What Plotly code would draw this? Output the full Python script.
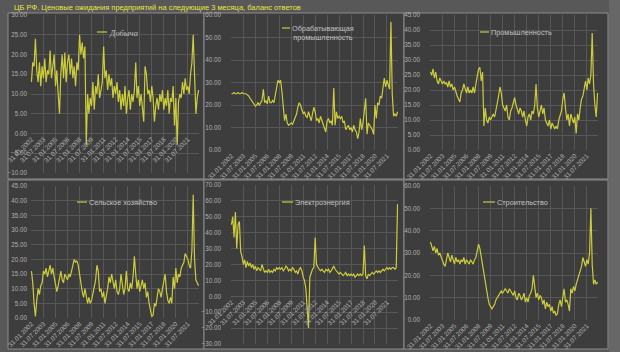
import pandas as pd
import plotly.graph_objects as go

TITLE = "ЦБ РФ. Ценовые ожидания предприятий на следующие 3 месяца, баланс ответов"

N = 126
DATES = pd.date_range("2002-01-01", periods=N, freq="2MS") + pd.offsets.MonthEnd(0)
TICK_IDX = list(range(0, N, 9))
TICK_VALS = [DATES[i] for i in TICK_IDX]
TICK_LABELS = [d.strftime("%d.%m.%Y") for d in TICK_VALS]

NAMES = ["Добыча", "Обрабатывающая<br>промышленность", "Промышленность",
         "Сельское хозяйство", "Электроэнергия", "Строительство"]

dobycha = [13, 18, 17, 24, 16, 13, 18, 12, 17, 14,
           19, 13, 16, 15, 21, 14, 17, 20, 12, 16,
           10, 5, 15, 20, 14, 20.5, 13, 18, 20, 15,
           19, 14, 17, 12, 18, 16, 25, 20, 23, 19,
           22, -3, 10, 5, 9, 7, 13, 6, 12, 10,
           15, 9, 11, 13, 22, 14, 16, 11, 15, 12,
           14, 9, 12, 10, 13, 8, 11, 6, 10, 7,
           12, 5, 9, 11, 6, 10, 8, 11, 18, 9,
           12, 7, 10, 6, 3, 17, 15, 10, 11, 8,
           12, 9, 3, 7, 9, 6, 10, 8, 11, 6,
           9, 7, 11, 5, 9, 8, 12, 2, 9, -3,
           8, 10, 9, 13, 10, 14, 11, 12, 10, 15,
           18, 25, 12, 5, 9, 11]

obrab = [25, 25, 25.5, 25, 25, 25.5, 25, 25, 25.5, 25,
         25, 25, 24.5, 24, 23, 22, 21, 20, 19.5, 20,
         21, 20, 21, 22, 27, 21, 22, 20.5, 24, 21,
         21, 22, 21, 25, 29, 31, 30, 31, 26, 17,
         13, 16, 12, 11, 11.5, 12, 11.5, 13, 14, 16,
         19, 21, 20, 18, 16, 17, 15, 14.5, 17, 15,
         13, 16, 19, 17, 13, 14, 12, 15, 13, 12,
         10, 8, 13, 14, 12, 13, 11, 27.5, 11, 17,
         14, 15, 14, 15, 12, 13, 9, 10, 11, 9,
         10, 8, 11, 9, 8, 5, 8, 14, 9, 12,
         17, 23, 7, 12, 11, 10, 9, 7, 20, 14,
         21, 20, 24, 23, 29, 32, 28, 31, 29, 27,
         57, 25, 15, 16, 15, 17]

prom = [26, 25, 27, 24, 26, 23, 22, 24, 23, 22,
        23, 22, 22.5, 21, 23, 21, 22, 20, 21, 19,
        18, 17, 16, 19, 20, 22, 20, 19, 21, 19,
        20, 19, 21, 19, 22, 25, 27, 27.5, 23, 26,
        8, 14, 10, 9, 11, 10, 11, 12, 11, 13,
        15, 18, 21, 19, 15, 14, 13, 15, 11, 10,
        13, 14, 16, 17.5, 15, 13, 12, 14, 13, 11,
        13, 10, 8, 11, 12, 10, 13, 12, 15, 22,
        14, 11, 13, 15, 12, 14, 10, 9, 8, 10,
        7, 9, 8, 7, 8, 7, 10, 12, 13, 17,
        19, 14, 10, 12, 8, 12, 10, 9, 11, 5.5,
        12, 10, 14, 17, 18, 20, 23, 20, 24, 22,
        25, 39, 22, 15, 11, 19]

selhoz = [16, 12, 5, 0.5, 6, 10, 8, 11, 12, 16,
          15, 17, 14, 16, 18, 15, 17, 14, 12, 9,
          11, 14, 16, 13, 12, 15, 14, 13, 15, 14,
          16, 18, 20, 19, 19.5, 18, 14, 12, 9, 7,
          10, 8, 5, 7, 5, 6, 8, 10, 13, 18,
          16, 9, 10, 7, 9, 5, 7, 10, 14, 12,
          15, 12, 10, 13, 9, 8, 10, 15, 12, 8,
          10, 16, 10, 9, 12, 10, 14, 21, 15, 10,
          13, 9, 11, 13, 10, 12, 7, 9, 5, 3,
          0.5, 1, 5, 4, 7, 10, 9, 7, 10, 12,
          15, 9, 6, 5, 7, 5, 14, 10, 17, 12,
          15, 14, 17, 18, 19, 22, 21, 20, 18, 17,
          23, 42, 20, 13, 12, 11]

elektro = [45, 50, 37, 53, 30, 45, 47, 28, 25, 20,
           23, 18, 22, 19, 21, 18, 20, 17, 19, 16,
           18, 17, 16, 20, 17, 15, 16, 15, 17, 15,
           16, 15, 17, 16, 18, 17, 18, 17, 18, 16,
           17, 19, 18, 16, 17, 16, 18, 17, 15, 16,
           14, 17, 18, 16, 12, 10, 5, -10, -20, 12,
           15, 17, 18, 37, 20, 18, 17, 16, 17, 16,
           15, 17, 16, 17, 15, 16, 18, 19, 17, 16,
           15, 14, 15, 14, 13, 14, 15, 13, 14, 13,
           14, 13, 14, 12, 13, 14, 13, 14, 13, 14,
           32, 13, 11, 14, 13, 14, 15, 14, 15, 16,
           15, 16, 15, 16, 17, 16, 17, 18, 17, 18,
           17, 18, 18, 17, 18, 58]

stroi = [35, 33, 31, 33, 30, 32, 29, 30, 28, 27,
         25, 24, 27, 30, 28, 26, 29, 27, 25, 28,
         26, 27, 25, 27, 26, 28, 25, 27, 26, 25,
         27, 26, 25, 27, 28, 31, 34, 32, 28, 25,
         20, 17, 13, 10, 7, 6, 5, 6, 7, 9,
         10, 11, 12, 13, 12, 13, 14, 13, 12, 14,
         13, 12, 11, 13, 10, 9, 12, 11, 9, 10,
         12, 8, 10, 8, 11, 12, 14, 20, 13, 10,
         12, 9, 11, 10, 7, 9, 5, 8, 6, 7,
         4, 6, 3, 4, 2, 3, 7, 9, 6, 10,
         14, 8, 9, 7, 4, 14, 12, 15, 13, 16,
         18, 20, 22, 24, 28, 26, 24, 27, 25, 30,
         50, 25, 16, 18, 16, 17]

SERIES = [dobycha, obrab, prom, selhoz, elektro, stroi]
Y_RANGES = [(-10, 30, 5), (0, 60, 10), (0, 45, 5), (0, 45, 5), (-30, 70, 10), (0, 60, 10)]

W, H = 620, 352
LINE_COLOR = "#cccc3c"
PANEL_BG = "#3d3d3d"
OUTER_BG = "#585858"
GRID = "#575757"
TXT = "#b0b0b0"

# pixel layout of panels and plot areas
panels = [(8, 13, 204, 179), (204, 13, 404, 179), (404, 13, 608, 179),
          (8, 180, 204, 349), (204, 180, 404, 349), (404, 180, 608, 349)]
plot_x = [(31, 199), (231, 398), (430, 598)] * 2
plot_y = [(15, 173), (15, 150), (15, 150), (186, 318), (185, 344), (186, 320)]
# (line start x, y, text start x)
legend_pos = [(97, 32, 108), (282, 28, 291), (480, 32, 490), (77, 202, 88), (282, 202, 294), (483, 202, 496)]

fig = go.Figure()
shapes = [dict(type="rect", xref="paper", yref="paper", x0=609 / W, x1=1, y0=0, y1=1,
               fillcolor="#676767", line=dict(width=0), layer="below")]
annotations = []
for k in range(6):
    x0, y0, x1, y1 = panels[k]
    shapes.append(dict(type="rect", xref="paper", yref="paper", x0=x0 / W, x1=x1 / W,
                       y0=1 - y1 / H, y1=1 - y0 / H, fillcolor=PANEL_BG,
                       line=dict(color="#8c8c8c", width=1), layer="below"))

for k in range(6):
    sfx = "" if k == 0 else str(k + 1)
    fig.add_trace(go.Scatter(x=DATES, y=SERIES[k], mode="lines",
                             line=dict(color=LINE_COLOR, width=1.2),
                             xaxis="x" + sfx, yaxis="y" + sfx, showlegend=False))
    ymin, ymax, step = Y_RANGES[k]
    px0, px1 = plot_x[k]
    py0, py1 = plot_y[k]
    yd = [1 - py1 / H, 1 - py0 / H]
    zero_pos = yd[0] + (0 - ymin) / (ymax - ymin) * (yd[1] - yd[0])
    xa = dict(domain=[px0 / W, px1 / W],
              range=[DATES[0] - pd.Timedelta(days=20), DATES[-1] + pd.Timedelta(days=20)],
              tickvals=TICK_VALS, ticktext=TICK_LABELS, tickangle=-45,
              tickfont=dict(size=6.5, color=TXT, family="Liberation Sans"),
              showgrid=True, gridcolor=GRID, gridwidth=1, zeroline=False, automargin=False,
              showline=False, ticks="", anchor="free", position=zero_pos)
    ya = dict(domain=yd, range=[ymin, ymax], dtick=step, tick0=ymin,
              tickformat=".2f", tickfont=dict(size=6.3, color=TXT, family="Liberation Sans"),
              showgrid=True, gridcolor=GRID, gridwidth=1, zeroline=False, automargin=False,
              showline=False, ticks="", anchor="x" + sfx,
              ticklabelstandoff=(3 if k % 3 == 0 else 9))
    fig.layout["xaxis" + sfx] = xa
    fig.layout["yaxis" + sfx] = ya
    lx, ly, tx = legend_pos[k]
    shapes.append(dict(type="line", xref="paper", yref="paper", x0=lx / W, x1=(tx - 1) / W,
                       y0=1 - ly / H, y1=1 - ly / H, line=dict(color=LINE_COLOR, width=1.2)))
    if k == 0:
        txt, fam, size = "<i>" + NAMES[0] + "</i>", "Liberation Serif", 8.5
    else:
        txt, fam, size = NAMES[k], "Liberation Sans", 7.3
    annotations.append(dict(x=tx / W, y=1 - (ly - 5) / H, xref="paper", yref="paper",
                            xanchor="left", yanchor="top", showarrow=False, align="center",
                            text=txt, borderpad=0,
                            font=dict(size=size, color="#c2c2c2", family=fam)))

annotations.append(dict(x=12 / W, y=1 - 7 / H, xref="paper", yref="paper", xanchor="left",
                        yanchor="middle", showarrow=False, text=TITLE,
                        font=dict(size=7.5, color="#e6e640", family="Liberation Sans")))

fig.update_layout(width=W, height=H, margin=dict(l=0, r=0, t=0, b=0),
                  paper_bgcolor=OUTER_BG, plot_bgcolor="rgba(0,0,0,0)",
                  shapes=shapes, annotations=annotations, showlegend=False)
fig.write_html("out.html")
